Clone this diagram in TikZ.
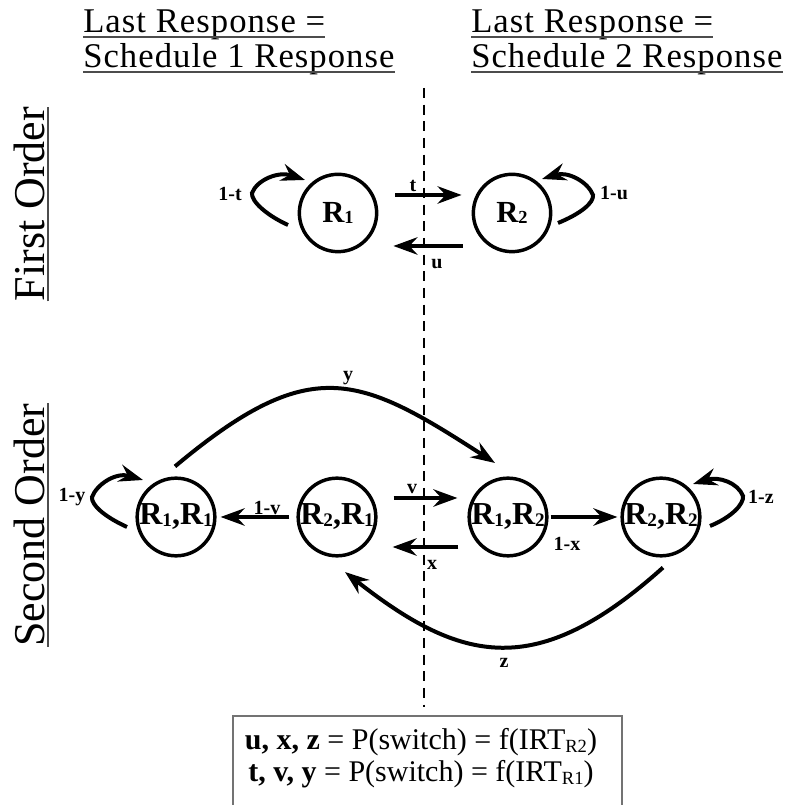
\documentclass[tikz,border=0pt]{standalone}
\usepackage{fontspec}
\setmainfont{Liberation Serif}
\newfontfamily\headfont[LetterSpace=3]{Liberation Serif}
\newfontfamily\sidefont{Liberation Serif}
\usetikzlibrary{arrows.meta,calc}
% small subscript digits sitting near the baseline
\newcommand\lowsub[1]{\raisebox{-0.04em}{\scalebox{0.6}{#1}}}
\newcommand\irtsub[1]{\raisebox{-0.07em}{\scalebox{0.62}{#1}}}

\begin{document}
\begin{tikzpicture}[x=0.75pt,y=0.75pt,
  state/.style={circle,draw,line width=2.6pt,minimum size=58pt,inner sep=0pt},
  firstlbl/.style={font=\fontsize{23}{25}\selectfont\bfseries},
  secondlbl/.style={font=\fontsize{24}{26}\selectfont\bfseries},
  edge/.style={line width=3pt,-{Stealth[length=18pt,width=13pt,inset=6pt]}},
  elabel/.style={font=\fontsize{15}{17}\selectfont\bfseries,inner sep=0pt},
  head/.style={font=\headfont\fontsize{26}{30}\selectfont,inner sep=0pt},
  side/.style={font=\sidefont\fontsize{33}{37}\selectfont,inner sep=0pt},
  uline/.style={line width=1.1pt,black!70},
  divider/.style={line width=1.5pt,dash pattern=on 7.5pt off 5pt},
  legendbox/.style={draw=black!55,line width=0.8pt,minimum width=291.75pt,minimum height=69pt,inner sep=0pt},
  legendtext/.style={font=\fontsize{22.5}{24}\selectfont,inner sep=0pt}
]
\useasboundingbox (0,0) rectangle (788,805);

% column headings
\node[head,anchor=base west] (hl1) at (83,772) {Last Response =};
\node[head,anchor=base west] (hl2) at (83,737) {Schedule 1 Response};
\node[head,anchor=base west] (hr1) at (471,772) {Last Response =};
\node[head,anchor=base west] (hr2) at (471,737) {Schedule 2 Response};
\foreach \h in {hl1,hl2,hr1,hr2}
  \draw[uline] ($(\h.base west)+(0,-4)$) -- ($(\h.base east)+(0,-4)$);

% row headings
\node[side,rotate=90,anchor=base] (so1) at (44,601) {First Order};
\node[side,rotate=90,anchor=base] (so2) at (44,280) {Second Order};
\foreach \h in {so1,so2}
  \draw[uline] ($(\h.base west)+(4,0)$) -- ($(\h.base east)+(4,0)$);

% divider between the two columns
\coordinate (divtop) at (424,717);
\coordinate (divbot) at (424,98);
\draw[divider] (divtop) -- (divbot);

% first order chain
\node[state,firstlbl] (R1) at (338,592) {R\lowsub{1}};
\node[state,firstlbl] (R2) at (512,592) {R\lowsub{2}};
\draw[edge] ($(R1.east)+(17,18)$) -- ($(R2.west)+(-10,18)$);
\draw[edge] ($(R2.west)+(-9,-33)$) -- ($(R1.east)+(15,-33)$);
\draw[edge] ($(R1)+(-50,-12)$) .. controls +(-22,10) and +(-1,-8) .. ($(R1)+(-86,20)$)
  .. controls +(5,13) and +(-27,9) .. ($(R1)+(-33,33)$);
\draw[edge] ($(R2)+(46,-10)$) .. controls +(22,9) and +(1,-8) .. ($(R2)+(81,18)$)
  .. controls +(-5,13) and +(26,8) .. ($(R2)+(30,34)$);
\node[elabel] (l1t) at (230,611) {1-t};
\node[elabel] (lt) at (413,619) {t};
\node[elabel] (lu) at (437,541) {u};
\node[elabel] (l1u) at (614,612) {1-u};

% second order chain
\node[state,secondlbl] (R11) at (176,288) {R\lowsub{1},R\lowsub{1}};
\node[state,secondlbl] (R21) at (337,288) {R\lowsub{2},R\lowsub{1}};
\node[state,secondlbl] (R12) at (508,288) {R\lowsub{1},R\lowsub{2}};
\node[state,secondlbl] (R22) at (661,288) {R\lowsub{2},R\lowsub{2}};
\draw[edge] ($(R21.west)+(-7,0)$) -- ($(R11.east)+(4,0)$);
\draw[edge] ($(R21.east)+(16,19)$) -- ($(R12.west)+(-10,19)$);
\draw[edge] ($(R12.west)+(-9,-30)$) -- ($(R21.east)+(15,-30)$);
\draw[edge] ($(R12.east)+(2,0)$) -- ($(R22.west)+(-3,0)$);
\draw[edge] ($(R11)+(-49,-10)$) .. controls +(-22,10) and +(-1,-8) .. ($(R11)+(-84,20)$)
  .. controls +(5,13) and +(-27,8) .. ($(R11)+(-33,37)$);
\draw[edge] ($(R22)+(49,-9)$) .. controls +(22,9) and +(1,-8) .. ($(R22)+(82,21)$)
  .. controls +(-5,13) and +(26,8) .. ($(R22)+(32,33)$);
\draw[edge] ($(R11.north)+(-1,10)$) .. controls +(136,114) and +(-136,88) .. ($(R12)+(-13,54)$);
\draw[edge] ($(R22.south)+(2,-10)$) .. controls +(-127,-114) and +(116,-91) .. ($(R21)+(8,-55)$);
\node[elabel] (l1y) at (72,308) {1-y};
\node[elabel] (l1v) at (267,297) {1-v};
\node[elabel] (lv) at (412,316) {v};
\node[elabel] (lx) at (432,240) {x};
\node[elabel] (l1x) at (567,261) {1-x};
\node[elabel] (l1z) at (761,308) {1-z};
\node[elabel] (ly) at (348,427) {y};
\node[elabel] (lz) at (504,142) {z};

% legend
\node[legendbox] (legend) at (427.5,43) {};
\node[legendtext,anchor=base] (lg1) at (421,55)
  {\textbf{u, x, z} = P(switch) = f(IRT\irtsub{R2})};
\node[legendtext,anchor=base] (lg2) at (421,23)
  {\textbf{t, v, y} = P(switch) = f(IRT\irtsub{R1})};
\end{tikzpicture}
\end{document}
